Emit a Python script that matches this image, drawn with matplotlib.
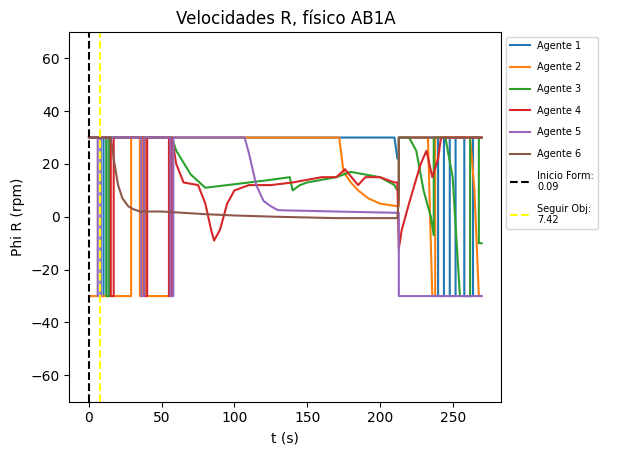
import matplotlib.pyplot as plt

# breakpoints (t in s, phi in rpm)
t1 = [0, 8, 8, 10, 10, 12, 12, 14, 14, 210, 212, 213, 213, 240, 240, 244, 244, 248, 248, 252, 252, 258, 258, 264, 264, 270]
v1 = [30, 30, -30, -30, 30, 30, -30, -30, 30, 30, 22, 22, 30, 30, -30, -30, 30, 30, -30, -30, 30, 30, -30, -30, 30, 30]

t2 = [0, 29, 29, 35, 35, 37, 37, 39, 39, 55, 55, 57, 57, 172, 175, 180, 185, 192, 200, 212, 213, 213, 233, 236, 236, 238, 238, 262, 265, 268, 270]
v2 = [-30, -30, 30, 30, -30, -30, 30, 30, -30, -30, 30, 30, 30, 30, 17, 13, 10, 7, 5, 4, 4, 30, 30, -30, -30, -30, 30, 30, 10, -30, -30]

t3 = [0, 12, 12, 14, 14, 57, 60, 70, 80, 95, 110, 125, 138, 140, 145, 150, 160, 170, 180, 190, 200, 210, 212, 213, 213, 220, 225, 230, 235, 237, 237, 245, 250, 255, 255, 262, 262, 268, 268, 270]
v3 = [30, 30, -30, -30, 30, 30, 25, 16, 11, 12, 13, 14, 15, 10, 12, 13, 14, 15, 17, 16, 15, 12, 10, 10, 30, 30, 25, 10, 0, -7, 30, 30, 15, -30, -30, -30, 30, 30, -10, -10]

t4 = [0, 15, 15, 17, 17, 38, 38, 40, 40, 55, 55, 57, 57, 60, 65, 75, 80, 84, 86, 90, 95, 100, 110, 125, 140, 150, 160, 170, 176, 185, 190, 200, 210, 212, 213, 215, 220, 228, 232, 236, 240, 242, 242, 270]
v4 = [30, 30, -30, -30, 30, 30, -30, -30, 30, 30, -30, -30, 30, 20, 13, 12, 5, -5, -9, -5, 5, 10, 12, 12, 13, 14, 15, 15, 18, 12, 15, 15, 13, 13, -12, -5, 5, 20, 25, 15, 22, 30, 30, 30]

t5 = [0, 6, 6, 8, 8, 36, 36, 38, 38, 56, 56, 58, 58, 107, 110, 115, 120, 125, 130, 170, 212, 213, 213, 270]
v5 = [30, 30, -30, -30, 30, 30, -30, -30, 30, 30, -30, -30, 30, 30, 24, 12, 6, 4, 2.5, 2, 1.5, 1.5, -30, -30]

t6 = [0, 15, 17, 20, 23, 27, 30, 35, 50, 80, 100, 130, 170, 212, 213, 213, 270]
v6 = [30, 30, 22, 12, 7, 4, 3, 2, 2, 1, 0.5, 0, -0.5, -0.5, 7, 30, 30]

series = [(t1, v1), (t2, v2), (t3, v3), (t4, v4), (t5, v5), (t6, v6)]
inicio_form = 0.09
seguir_obj = 7.42

fig, ax = plt.subplots(figsize=(6.19, 4.55), dpi=100)
for i, (t, v) in enumerate(series):
    ax.plot(t, v, label=f"Agente {i + 1}")
ax.axvline(inicio_form, color="black", linestyle="--", label=f"Inicio Form:\n{inicio_form}")
ax.axvline(seguir_obj, color="yellow", linestyle="--", label=f"Seguir Obj:\n{seguir_obj}")

ax.set_ylim(-70, 70)
ax.set_xlabel("t (s)")
ax.set_ylabel("Phi R (rpm)")
ax.set_title("Velocidades R, físico AB1A")
ax.legend(loc="upper left", bbox_to_anchor=(1.0, 1.0), fontsize=7, labelspacing=1.2)
plt.subplots_adjust(left=0.112, right=0.81, top=0.93, bottom=0.117)

plt.savefig("out.png")
